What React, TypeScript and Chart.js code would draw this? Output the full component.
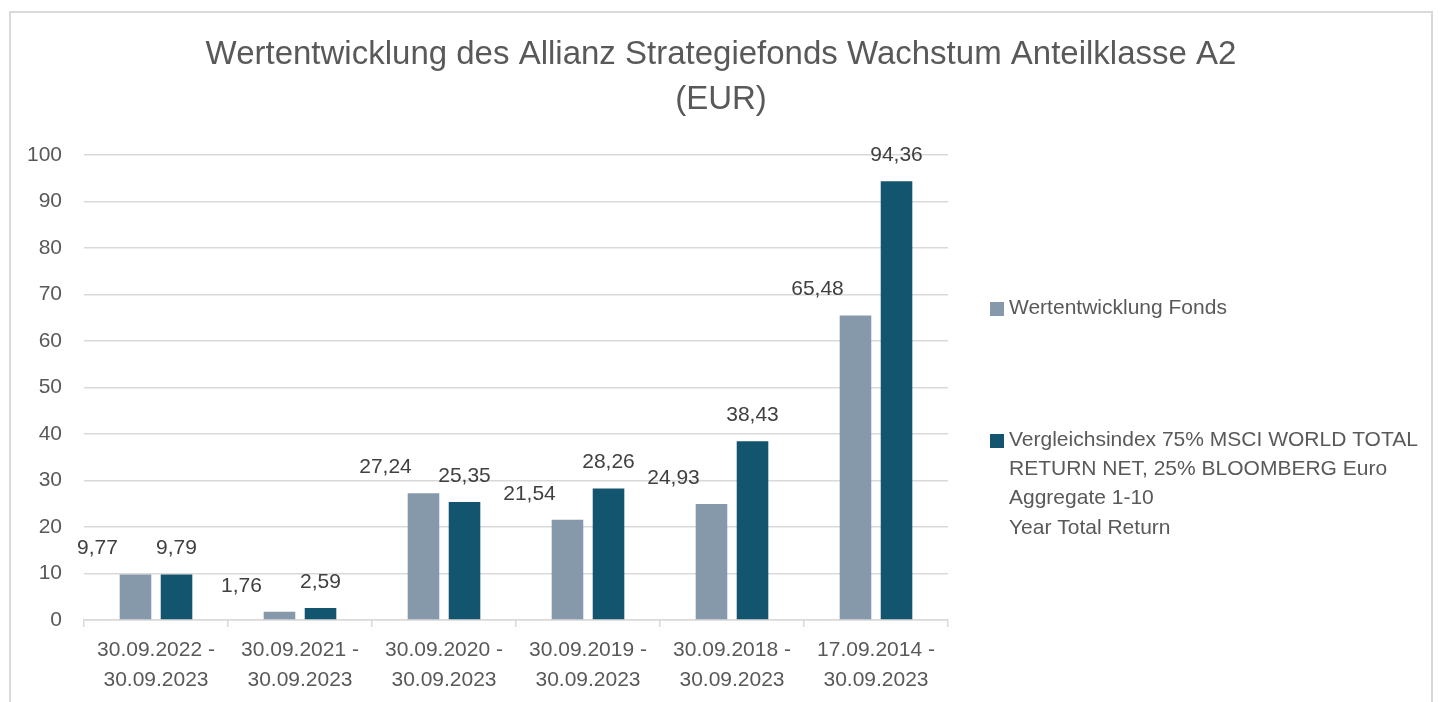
import React, { useEffect, useRef } from "react";
import { Chart, registerables } from "chart.js";

Chart.register(...registerables);

const FONT = "'Liberation Sans', Arial, sans-serif";

const titleLines = [
  "Wertentwicklung des Allianz Strategiefonds Wachstum Anteilklasse A2",
  "(EUR)",
];

const categories = [
  ["30.09.2022 -", "30.09.2023"],
  ["30.09.2021 -", "30.09.2023"],
  ["30.09.2020 -", "30.09.2023"],
  ["30.09.2019 -", "30.09.2023"],
  ["30.09.2018 -", "30.09.2023"],
  ["17.09.2014 -", "30.09.2023"],
];

const fundLabel = "Wertentwicklung Fonds";
const indexLabelLines = [
  "Vergleichsindex 75% MSCI WORLD TOTAL",
  "RETURN NET, 25% BLOOMBERG Euro",
  "Aggregate 1-10",
  "Year Total Return",
];

const fundValues = [9.77, 1.76, 27.24, 21.54, 24.93, 65.48];
const indexValues = [9.79, 2.59, 25.35, 28.26, 38.43, 94.36];

const yMin = 0;
const yMax = 100;
const yStep = 10;

const FUND_COLOR = "#8699ab";
const INDEX_COLOR = "#13546f";
const TEXT_COLOR = "#595959";
const LABEL_COLOR = "#404040";
const GRID_COLOR = "#d9d9d9";

const fmt = (v: number) => v.toFixed(2).replace(".", ",");

const titlePlugin = {
  id: "customTitle",
  afterDraw(chart: any) {
    const ctx = chart.ctx;
    ctx.save();
    ctx.font = `33px ${FONT}`;
    ctx.fillStyle = TEXT_COLOR;
    ctx.textAlign = "center";
    ctx.textBaseline = "middle";
    const cx = chart.width / 2;
    titleLines.forEach((line, k) => {
      ctx.fillText(line, cx, 42 + k * 45);
    });
    ctx.restore();
  },
};

const dataLabelsPlugin = {
  id: "dataLabels",
  afterDatasetsDraw(chart: any) {
    const ctx = chart.ctx;
    ctx.save();
    ctx.font = `21px ${FONT}`;
    ctx.fillStyle = LABEL_COLOR;
    ctx.textAlign = "center";
    ctx.textBaseline = "middle";
    chart.data.datasets.forEach((ds: any, i: number) => {
      const meta = chart.getDatasetMeta(i);
      meta.data.forEach((bar: any, j: number) => {
        const dx = i === 0 ? -38 : 0;
        ctx.fillText(fmt(ds.data[j]), bar.x + dx, bar.y - 26);
      });
    });
    ctx.restore();
  },
};

const legendPlugin = {
  id: "customLegend",
  afterDraw(chart: any) {
    const ctx = chart.ctx;
    const x0 = chart.chartArea.right + 42;
    ctx.save();
    ctx.font = `21px ${FONT}`;
    ctx.textAlign = "left";
    ctx.textBaseline = "middle";
    ctx.fillStyle = FUND_COLOR;
    ctx.fillRect(x0, 289, 14, 14);
    ctx.fillStyle = TEXT_COLOR;
    ctx.fillText(fundLabel, x0 + 19, 295);
    ctx.fillStyle = INDEX_COLOR;
    ctx.fillRect(x0, 421, 14, 14);
    ctx.fillStyle = TEXT_COLOR;
    indexLabelLines.forEach((line, k) => {
      ctx.fillText(line, x0 + 19, 427 + k * 29.3);
    });
    ctx.restore();
  },
};

export default function App() {
  const canvasRef = useRef<HTMLCanvasElement | null>(null);

  useEffect(() => {
    if (!canvasRef.current) return;
    const chart = new Chart(canvasRef.current, {
      type: "bar",
      data: {
        labels: categories,
        datasets: [
          {
            label: fundLabel,
            data: fundValues,
            backgroundColor: FUND_COLOR,
            categoryPercentage: 0.57,
            barPercentage: 0.77,
          },
          {
            label: indexLabelLines.join(" "),
            data: indexValues,
            backgroundColor: INDEX_COLOR,
            categoryPercentage: 0.57,
            barPercentage: 0.77,
          },
        ],
      },
      options: {
        responsive: false,
        animation: false,
        layout: { padding: { left: 0, right: 483, top: 142, bottom: 0 } },
        plugins: {
          legend: { display: false },
          tooltip: { enabled: false },
          title: { display: false },
        },
        scales: {
          x: {
            grid: {
              drawOnChartArea: false,
              drawTicks: true,
              tickLength: 7,
              color: GRID_COLOR,
              lineWidth: 1.5,
            },
            border: { color: GRID_COLOR, width: 1.5 },
            ticks: {
              color: TEXT_COLOR,
              font: { family: FONT, size: 21, lineHeight: 1.45 },
              padding: 8,
              maxRotation: 0,
              autoSkip: false,
            },
            afterFit(scale: any) {
              scale.height = 90;
            },
          },
          y: {
            min: yMin,
            max: yMax,
            grid: { color: GRID_COLOR, lineWidth: 1.5, drawTicks: false },
            border: { display: false },
            ticks: {
              stepSize: yStep,
              color: TEXT_COLOR,
              font: { family: FONT, size: 21 },
              padding: 22,
            },
            afterFit(scale: any) {
              scale.width = 73;
            },
          },
        },
      },
      plugins: [titlePlugin, dataLabelsPlugin, legendPlugin],
    });
    return () => chart.destroy();
  }, []);

  return (
    <div
      style={{
        position: "relative",
        left: 1,
        top: 3,
        width: 1424,
        height: 720,
        border: "2px solid #d9d9d9",
        boxSizing: "border-box",
      }}
    >
      <canvas ref={canvasRef} width={1420} height={697} style={{ display: "block" }} />
    </div>
  );
}
